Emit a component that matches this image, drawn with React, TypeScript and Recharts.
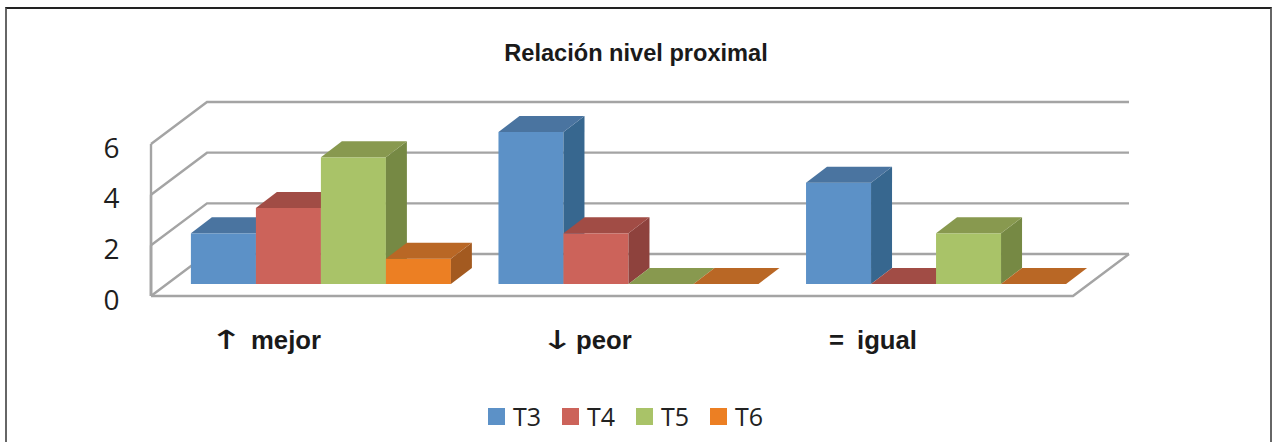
import { Bar, BarChart, CartesianGrid, Legend, XAxis, YAxis } from 'recharts';

const categories = ['mejor', 'peor', 'igual'];
const markers = ['↑', '↓', '='];
const t3 = [2, 6, 4];
const t4 = [3, 2, 0];
const t5 = [5, 0, 2];
const t6 = [1, 0, 0];
const yTicks = [0, 2, 4, 6];

const series = [
  { key: 'T3', front: '#5c91c7', top: '#4a74a0', side: '#37678f' },
  { key: 'T4', front: '#cc635a', top: '#a14c45', side: '#8e423d' },
  { key: 'T5', front: '#a9c368', top: '#88994f', side: '#768944' },
  { key: 'T6', front: '#ec7f23', top: '#b96725', side: '#a35a20' },
];

const chartData = categories.map((name, i) => ({ name, T3: t3[i], T4: t4[i], T5: t5[i], T6: t6[i] }));

// 3d look: bars sit on a plane in front of the back wall
const DEPTH_X = 21;
const DEPTH_Y = 16;
const WALL = '#a4a4a4';
const FRONT_LEFT = 151;
const FRONT_RIGHT = 1073;
const BACK_LEFT = 207;
const BACK_RIGHT = 1129;
const FLOOR_FRONT = 296;
const FLOOR_BACK = 254;
const BAR_BASE = 284;

function Cuboid(props: any) {
  const { x, y, width, height, front, top, side } = props;
  const r = x + width;
  const b = y + height;
  return (
    <g>
      {height > 0 && <rect x={x} y={y} width={width} height={height} fill={front} />}
      {height > 0 && (
        <polygon points={`${r},${y} ${r + DEPTH_X},${y - DEPTH_Y} ${r + DEPTH_X},${b - DEPTH_Y} ${r},${b}`} fill={side} />
      )}
      <polygon points={`${x},${y} ${x + DEPTH_X},${y - DEPTH_Y} ${r + DEPTH_X},${y - DEPTH_Y} ${r},${y}`} fill={top} />
    </g>
  );
}

function WallLine(props: any) {
  const { y1 } = props;
  const front = y1 + 12;
  const back = y1 - 30;
  const floor = y1 >= BAR_BASE - 1;
  return (
    <g stroke={WALL} strokeWidth={2.4} fill="none">
      <path d={`M${FRONT_LEFT},${front} L${BACK_LEFT},${back} L${BACK_RIGHT},${back}`} />
      <path d={`M${FRONT_LEFT},${front} L${FRONT_LEFT},${FLOOR_FRONT}`} />
      {floor && <path d={`M${FRONT_LEFT},${FLOOR_FRONT} L${FRONT_RIGHT},${FLOOR_FRONT} L${BACK_RIGHT},${FLOOR_BACK}`} />}
    </g>
  );
}

function ValueTick({ y, payload }: any) {
  return (
    <text x={103.5} y={y + 25.5} fontFamily="Open Sans" fontSize={28} fill="#1e1e1e">
      {payload.value}
    </text>
  );
}

const markerX = [209, 540, 829];
const wordX = [251, 576, 857];

function CategoryTick({ payload, index }: any) {
  const isArrow = index !== 2;
  return (
    <g>
      {isArrow ? (
        <text
          transform={`translate(${markerX[index]},349) scale(1.65,1.05)`}
          fontFamily="DejaVu Sans"
          fontSize={25}
          fill="#1a1a1a"
        >
          {markers[index]}
        </text>
      ) : (
        <text x={markerX[index]} y={349} fontFamily="Liberation Sans" fontWeight="bold" fontSize={25.7} fill="#1a1a1a">
          {markers[index]}
        </text>
      )}
      <text x={wordX[index]} y={349} fontFamily="Liberation Sans" fontWeight="bold" fontSize={25.7} fill="#1a1a1a">
        {payload.value}
      </text>
    </g>
  );
}

function LegendRow() {
  return (
    <div style={{ display: 'flex', fontFamily: 'Open Sans', fontSize: 25, color: '#222', lineHeight: '30px' }}>
      {series.map((s) => (
        <div key={s.key} style={{ display: 'flex', alignItems: 'center', width: 74 }}>
          <span style={{ width: 17, height: 17, background: s.front, marginRight: 8, display: 'inline-block' }} />
          {s.key}
        </div>
      ))}
    </div>
  );
}

export default function App() {
  return (
    <div style={{ position: 'absolute', left: 0, top: 0, width: 1274, height: 442, background: '#fff', overflow: 'hidden' }}>
      <div
        style={{
          position: 'absolute',
          left: 5,
          top: 7,
          width: 1267,
          height: 435,
          boxSizing: 'border-box',
          borderTop: '2px solid #222',
          borderLeft: '2px solid #666',
          borderRight: '2px solid #666',
        }}
      />
      <div style={{ position: 'absolute', left: 0, top: 0 }}>
        <BarChart
          width={1274}
          height={442}
          data={chartData}
          barGap={0}
          barCategoryGap="8%"
          margin={{ top: 132, right: 185, left: 0, bottom: 0 }}
        >
          <text x={636} y={61} textAnchor="middle" fontFamily="Liberation Sans" fontWeight="bold" fontSize={23.6} fill="#1a1a1a">
            Relación nivel proximal
          </text>
          <CartesianGrid vertical={false} horizontal={(p: any) => <WallLine key={p.key} {...p} />} />
          <XAxis dataKey="name" height={158} axisLine={false} tickLine={false} interval={0} tick={<CategoryTick />} />
          <YAxis width={166.3} domain={[0, 6]} ticks={yTicks} axisLine={false} tickLine={false} tick={<ValueTick />} />
          <Legend
            layout="horizontal"
            verticalAlign="middle"
            align="center"
            content={<LegendRow />}
            wrapperStyle={{ left: 488, top: 401, width: 300, height: 30 }}
          />
          {series.map((s) => (
            <Bar
              key={s.key}
              dataKey={s.key}
              fill={s.front}
              isAnimationActive={false}
              shape={(p: any) => <Cuboid {...p} front={s.front} top={s.top} side={s.side} />}
            />
          ))}
        </BarChart>
      </div>
    </div>
  );
}
